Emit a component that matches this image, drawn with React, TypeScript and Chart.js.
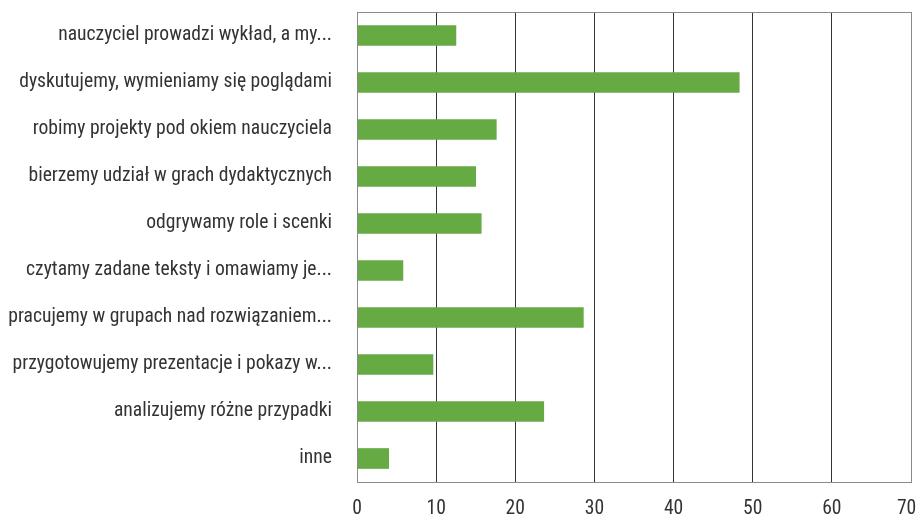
import React, { useEffect, useRef } from "react";
import { Chart, registerables } from "chart.js";

Chart.register(...registerables);

const categories: string[] = [
  "nauczyciel prowadzi wykład, a my...",
  "dyskutujemy, wymieniamy się poglądami",
  "robimy projekty pod okiem nauczyciela",
  "bierzemy udział w grach dydaktycznych",
  "odgrywamy role i scenki",
  "czytamy zadane teksty i omawiamy je...",
  "pracujemy w grupach nad rozwiązaniem...",
  "przygotowujemy prezentacje i pokazy w...",
  "analizujemy różne przypadki",
  "inne",
];

const values: number[] = [12.5, 48.3, 17.6, 15.0, 15.7, 5.8, 28.6, 9.6, 23.6, 4.0];

const xMin = 0;
const xMax = 70;
const xStep = 10;

const FONT = "'Roboto Condensed', 'Roboto', sans-serif";

const borderPlugin = {
  id: "frameBorder",
  afterDraw(chart: any) {
    const { ctx, chartArea } = chart;
    ctx.save();
    ctx.strokeStyle = "#8a8a8a";
    ctx.lineWidth = 1;
    ctx.strokeRect(
      Math.round(chartArea.left) + 0.5,
      Math.round(chartArea.top) + 0.5,
      Math.round(chartArea.right - chartArea.left),
      Math.round(chartArea.bottom - chartArea.top)
    );
    ctx.restore();
  },
};

export default function App() {
  const ref = useRef<HTMLCanvasElement | null>(null);

  useEffect(() => {
    document.body.style.margin = "0";
    const canvas = ref.current;
    if (!canvas) return;
    const chart = new Chart(canvas, {
      type: "bar",
      data: {
        labels: categories,
        datasets: [
          {
            data: values,
            backgroundColor: "#66aa44",
            borderWidth: 0,
            barThickness: 20,
          },
        ],
      },
      plugins: [borderPlugin],
      options: {
        indexAxis: "y",
        animation: false,
        responsive: false,
        maintainAspectRatio: false,
        layout: { padding: { top: 12, right: 7, left: 0, bottom: 0 } },
        plugins: {
          legend: { display: false },
          tooltip: { enabled: false },
        },
        scales: {
          x: {
            min: xMin,
            max: xMax,
            grid: {
              color: (c: any) => (c.index === 0 ? "#555" : "#333"),
              lineWidth: 1,
              drawTicks: false,
            },
            border: { display: false },
            ticks: {
              stepSize: xStep,
              padding: 15,
              color: "#333",
              font: { family: FONT, size: 19.6, weight: "400" },
              maxRotation: 0,
              callback: (v: any) => (v === xMax ? `${v}\u2002` : `${v}`),
            },
            afterFit: (scale: any) => {
              scale.height = 37;
              scale.paddingLeft = 0;
              scale.paddingRight = 0;
            },
          },
          y: {
            grid: { display: false, drawTicks: false },
            border: { display: true, color: "#555" },
            ticks: {
              padding: 25,
              color: "#333",
              font: { family: FONT, size: 19.6, weight: "400" },
              autoSkip: false,
            },
            afterFit: (scale: any) => {
              scale.width = 357;
              scale.paddingTop = 0;
              scale.paddingBottom = 0;
            },
          },
        },
      },
    });
    return () => chart.destroy();
  }, []);

  return (
    <div style={{ width: 918, height: 519 }}>
      <canvas ref={ref} width={918} height={519} style={{ display: "block" }} />
    </div>
  );
}
